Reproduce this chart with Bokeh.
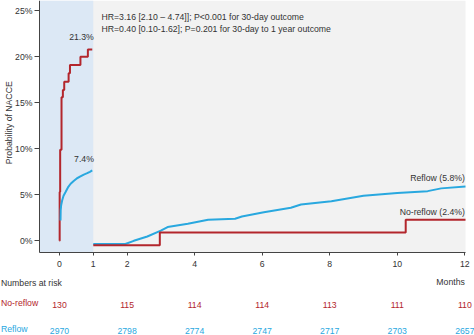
import numpy as np
from bokeh.plotting import figure
from bokeh.models import Range1d, FixedTicker, PrintfTickFormatter
from bokeh.core.properties import value
from bokeh.embed import file_html
from bokeh.resources import INLINE

# ---------------- data ----------------
# 0-30 day landmark (months)
noreflow_early_t = [0, 0.005, 0.02, 0.06, 0.10, 0.14, 0.27, 0.31, 0.62, 0.84, 0.97]
noreflow_early_v = [0, 5.3, 9.9, 15.6, 16.4, 17.3, 18.2, 19.1, 20.0, 20.8, 20.8]
reflow_early_t = [0.03, 0.035, 0.05, 0.08, 0.12, 0.18, 0.25, 0.33, 0.42, 0.52, 0.62, 0.72, 0.82, 0.90, 0.97]
reflow_early_v = [2.2, 3.3, 3.9, 4.4, 4.9, 5.3, 5.8, 6.2, 6.5, 6.8, 7.0, 7.2, 7.35, 7.5, 7.65]
# 30 day - 1 year landmark
noreflow_late_t = [1, 2.97, 10.25, 12.02]
noreflow_late_v = [-0.48, 0.9, 2.3, 2.3]
reflow_late_t = [1, 1.95, 2.2, 2.6, 3.0, 3.2, 3.8, 4.4, 5.2, 5.4, 6.05, 6.85, 7.15, 8.05, 9.0, 10.0, 10.9, 11.3, 12.02]
reflow_late_v = [-0.35, -0.35, 0.0, 0.47, 1.1, 1.5, 1.85, 2.3, 2.4, 2.65, 3.1, 3.6, 3.95, 4.3, 4.9, 5.2, 5.4, 5.7, 5.9]

x_ticks = [0, 1, 2, 4, 6, 8, 10, 12]
y_ticks = [0, 5, 10, 15, 20, 25]

risk_months = [0, 2, 4, 6, 8, 10, 12]
risk_noreflow = [130, 115, 114, 114, 113, 111, 110]
risk_reflow = [2970, 2798, 2774, 2747, 2717, 2703, 2657]

# ---------------- style / geometry ----------------
RED = "#b3262c"
BLUE = "#29a8df"
SHADE = "#dce8f5"
BG = "#f2f2f2"
TXT = "#333333"
AXC = "#444444"
FONT = "Liberation Sans"
FS = "8.7px"

W, H = 474, 335
AX_L, AX_R, AX_T, AX_B = 39, 465, 0, 252      # plot-area box in pixels
X0, X1 = -0.592, 12.02                         # data extent of the plot area
Y0, Y1 = -1.27, 26.12
ppx = (AX_R - AX_L) / (X1 - X0)
ppy = (AX_B - AX_T) / (Y1 - Y0)
XMIN, XMAX = X0 - AX_L / ppx, X1 + (W - AX_R) / ppx
YMAX = Y1 + AX_T / ppy
YMIN = Y0 - (H - AX_B) / ppy

def px_x(px):   # canvas pixel -> data x
    return XMIN + px / ppx

def px_y(py):   # canvas pixel (from top) -> data y
    return YMAX - py / ppy

p = figure(width=W, height=H, output_backend="svg", toolbar_location=None,
           x_range=Range1d(XMIN, XMAX), y_range=Range1d(YMIN, YMAX),
           min_border_left=0, min_border_right=0, min_border_top=0, min_border_bottom=0)
p.background_fill_color = "white"
p.border_fill_color = "white"
p.outline_line_color = None
p.grid.visible = False

# plot-area backgrounds
p.quad(left=[X0], right=[X1], bottom=[Y0], top=[Y1], fill_color=BG, line_color=None)
p.quad(left=[X0], right=[1], bottom=[Y0], top=[Y1], fill_color=SHADE, line_color=None)

# axes drawn at fixed locations inside the canvas
p.xaxis.fixed_location = Y0
p.yaxis.fixed_location = X0
p.xaxis.bounds = (X0, X1)
p.yaxis.bounds = (Y0, Y1)
p.xaxis.ticker = FixedTicker(ticks=x_ticks)
p.yaxis.ticker = FixedTicker(ticks=y_ticks)
p.yaxis.formatter = PrintfTickFormatter(format="%d%%")
for ax in (p.xaxis, p.yaxis):
    ax.axis_line_color = AXC
    ax.major_tick_line_color = AXC
    ax.minor_tick_line_color = None
    ax.major_tick_in = 0
    ax.major_label_text_font = FONT
    ax.major_label_text_font_size = FS
    ax.major_label_text_color = TXT
p.xaxis.major_tick_out = 3
p.xaxis.major_label_standoff = 5
p.yaxis.major_tick_out = 5
p.yaxis.major_label_standoff = 2

# curves
p.step(noreflow_early_t, noreflow_early_v, mode="after", line_color=RED, line_width=2)
p.line(reflow_early_t, reflow_early_v, line_color=BLUE, line_width=2)
p.line(reflow_late_t, reflow_late_v, line_color=BLUE, line_width=2)
p.step(noreflow_late_t, noreflow_late_v, mode="after", line_color=RED, line_width=2)

def txt(x, y, s, color=TXT, align="left", angle=0):
    xs = x if isinstance(x, list) else [x]
    ys = y if isinstance(y, list) else [y]
    ss = s if isinstance(s, list) else [s]
    p.text(x=xs, y=ys, text=ss, text_font=value(FONT), text_font_size=FS,
           text_color=color, text_align=align, text_baseline="middle", angle=angle)

# annotations inside the plot area
txt(0.65, 22.2, "21.3%", align="center")
txt(0.725, 8.87, "7.4%", align="center")
txt(1.243, 24.35, "HR=3.16 [2.10 \u2013 4.74]]; P<0.001 for 30-day outcome")
txt(1.243, 23.04, "HR=0.40 [0.10-1.62]; P=0.201 for 30-day to 1 year outcome")
txt(12.0, 6.8, "Reflow (5.8%)", align="right")
txt(12.0, 3.1, "No-reflow (2.4%)", align="right")

# y axis title
txt(px_x(8.5), (Y0 + Y1) / 2 + 0.4, "Probability of NACCE", align="center", angle=np.pi / 2)

# x axis title and numbers at risk
txt(X1 - 0.02, px_y(281), "Months", align="right")
txt(px_x(0.5), px_y(282), "Numbers at risk")
txt(px_x(0.5), px_y(302.7), "No-reflow", color=RED)
txt(px_x(0.5), px_y(328.3), "Reflow", color=BLUE)
n = len(risk_months)
txt(risk_months, [px_y(304.3)] * n, [str(v) for v in risk_noreflow], color=RED, align="center")
txt(risk_months, [px_y(330.5)] * n, [str(v) for v in risk_reflow], color=BLUE, align="center")

open("out.html", "w").write(file_html(p, INLINE))
